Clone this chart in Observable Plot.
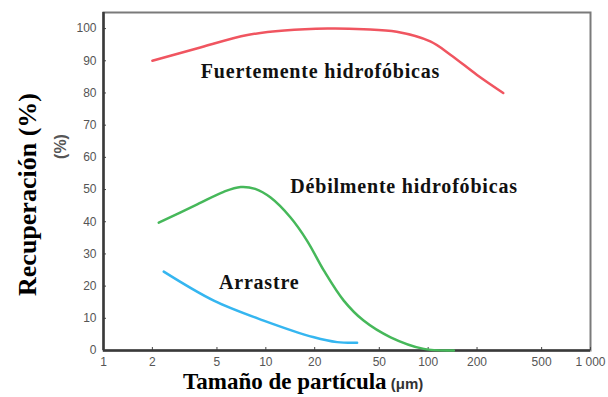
<!DOCTYPE html>
<html>
<head>
<meta charset="utf-8">
<script src="https://cdn.jsdelivr.net/npm/d3@7"></script>
<script src="https://cdn.jsdelivr.net/npm/@observablehq/plot@0.6"></script>
<style>
  html, body { margin: 0; padding: 0; background: #fff; }
  #chart svg { display: block; }
</style>
</head>
<body>
<div id="chart"></div>
<script>
// Recovery (%) vs particle size (µm), three flotation curves
const fuerteSize = [2, 3.8, 7.7, 13, 24, 40, 64, 103, 137, 200, 290];
const fuerteRec  = [90, 93.9, 98, 99.4, 100, 99.8, 99, 96, 91.9, 85.6, 80];

const debilSize = [2.19, 3.78, 5.5, 7.0, 8.6, 10.7, 14.2, 18, 22.8, 30.2, 40, 58.7, 94, 144];
const debilRec  = [39.7, 45.4, 49.3, 50.8, 50.2, 47.5, 41.3, 34, 24.8, 15.5, 9.3, 4.1, 0.5, 0];

const arrastreSize = [2.35, 4.78, 9.7, 19.8, 27.5, 36.5];
const arrastreRec  = [24.5, 15.5, 9.3, 4.1, 2.6, 2.4];

const xTicks = [1, 2, 5, 10, 20, 50, 100, 200, 500, 1000];
const yTicks = [0, 10, 20, 30, 40, 50, 60, 70, 80, 90, 100];
const xDomain = [1, 1000];
const yDomain = [0, 105];

const curveLabels = ["Fuertemente hidrofóbicas", "Débilmente hidrofóbicas", "Arrastre"];
const labelSize = [21.7, 71, 9.1];
const labelRec  = [86.6, 50.9, 21.1];

const series = (sizes, recs) => sizes.map((s, i) => ({size: s, rec: recs[i]}));
const fuerte = series(fuerteSize, fuerteRec);
const debil = series(debilSize, debilRec);
const arrastre = series(arrastreSize, arrastreRec);
const labels = curveLabels.map((t, i) => ({text: t, size: labelSize[i], rec: labelRec[i]}));

const serif = "'Liberation Serif', 'Times New Roman', serif";
const sans = "'Liberation Sans', Arial, sans-serif";
const tickLen = 3;
const innerHeight = 397 - 12 - 47;

const chart = Plot.plot({
  width: 608,
  height: 397,
  marginLeft: 103,
  marginRight: 18,
  marginTop: 12,
  marginBottom: 47,
  style: {background: "#fff", fontFamily: sans},
  x: {type: "log", domain: xDomain, axis: null},
  y: {domain: yDomain, axis: null},
  marks: [
    // light box around the plotting area
    Plot.frame({stroke: "#7a7a7a", strokeWidth: 2}),
    // x ticks pointing inward, with their labels below the axis
    Plot.ruleX(xTicks, {x: d => d, insetTop: innerHeight - tickLen, stroke: "#444"}),
    Plot.text(xTicks, {
      x: d => d, text: d => d === 1000 ? "1 000" : String(d),
      frameAnchor: "bottom", dy: 15, fontSize: 12, fill: "#555"
    }),
    Plot.axisY(yTicks, {
      tickSize: -tickLen, tickPadding: 10,
      fontSize: 12, color: "#555", label: null, stroke: "#444"
    }),
    // darker left and bottom axis lines
    Plot.ruleX([xDomain[0]], {stroke: "#3a3a3a", strokeWidth: 2.5}),
    Plot.ruleY([yDomain[0]], {stroke: "#3a3a3a", strokeWidth: 2.5}),
    Plot.line(fuerte, {x: "size", y: "rec", stroke: "#f05560", strokeWidth: 2.5, curve: "catmull-rom"}),
    Plot.line(debil, {x: "size", y: "rec", stroke: "#46b85a", strokeWidth: 2.5, curve: "catmull-rom"}),
    Plot.line(arrastre, {x: "size", y: "rec", stroke: "#35b6f0", strokeWidth: 2.5, curve: "catmull-rom"}),
    Plot.text(labels, {
      x: "size", y: "rec", text: "text",
      fontFamily: serif, fontWeight: "bold", fontSize: 20, fill: "#111"
    }),
    // axis titles
    Plot.text(["Recuperación (%)"], {
      frameAnchor: "left", textAnchor: "middle", dx: -76, dy: 13, rotate: -90,
      fontFamily: serif, fontWeight: "bold", fontSize: 26, fill: "#000"
    }),
    Plot.text(["(%)"], {
      frameAnchor: "top-left", textAnchor: "middle", dx: -49, dy: 134, rotate: -90,
      fontFamily: sans, fontWeight: "bold", fontSize: 16, fill: "#555"
    })
  ]
});

const svg = d3.select(chart);
svg.selectAll("text")
  .filter(function() { return curveLabels.includes(this.textContent); })
  .style("letter-spacing", "0.8px");

// x title: serif name followed by the smaller unit
const t = svg.append("text")
  .attr("x", 183).attr("y", 389)
  .attr("text-anchor", "start")
  .attr("fill", "#000");
t.append("tspan").text("Tamaño de partícula")
  .attr("font-family", serif).attr("font-weight", "bold").attr("font-size", 23);
t.append("tspan").text(" (μm)")
  .attr("font-family", sans).attr("font-weight", "bold").attr("font-size", 15).attr("fill", "#333");

document.getElementById("chart").appendChild(chart);
</script>
</body>
</html>
